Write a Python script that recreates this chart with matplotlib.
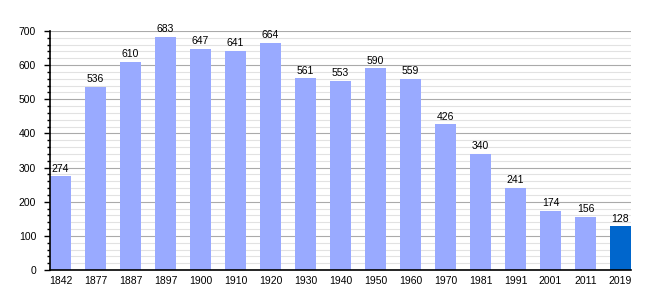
import matplotlib
matplotlib.use("Agg")
import matplotlib.pyplot as plt
from matplotlib.ticker import MultipleLocator

years = ["1842", "1877", "1887", "1897", "1900", "1910", "1920", "1930", "1940",
         "1950", "1960", "1970", "1981", "1991", "2001", "2011", "2019"]
population = [274, 536, 610, 683, 647, 641, 664, 561, 553, 590, 559, 426, 340, 241, 174, 156, 128]

plt.rcParams['font.family'] = ['Liberation Sans', 'DejaVu Sans']

fig = plt.figure(figsize=(6.6, 3.0), dpi=100)
ax = fig.add_axes([50/660, 0.1, 581/660, 0.797])

w = 0.6
x = list(range(len(years)))
colors = ['#99aaff'] * (len(years) - 1) + ['#0066cc']
bars = ax.bar(x, population, width=w, align='edge', color=colors, zorder=3)
for xi, v in zip(x, population):
    ax.text(xi + w/2, v + 8, str(v), ha='center', va='bottom', fontsize=7.5, zorder=4)

ax.set_xlim(0, len(years) - 1 + w)
ax.set_ylim(0, 700)
ax.set_xticks([xi + w/2 for xi in x])
ax.set_xticklabels(years, fontsize=7.5)
ax.tick_params(axis='x', length=0, pad=4)
ax.yaxis.set_major_locator(MultipleLocator(100))
ax.yaxis.set_minor_locator(MultipleLocator(20))
ax.tick_params(axis='y', which='major', length=4, width=1, labelsize=7.5, pad=6)
ax.tick_params(axis='y', which='minor', length=2, width=1)
ax.grid(axis='y', which='major', color='#aaaaaa', linewidth=0.8, zorder=0)
ax.grid(axis='y', which='minor', color='#e2e2e2', linewidth=0.8, zorder=0)
for s in ['top', 'right']:
    ax.spines[s].set_visible(False)
ax.spines['left'].set_linewidth(1.2)
ax.spines['bottom'].set_linewidth(1.2)
ax.spines['left'].set_zorder(5)
ax.spines['bottom'].set_zorder(5)

fig.savefig('out.png', dpi=100)
